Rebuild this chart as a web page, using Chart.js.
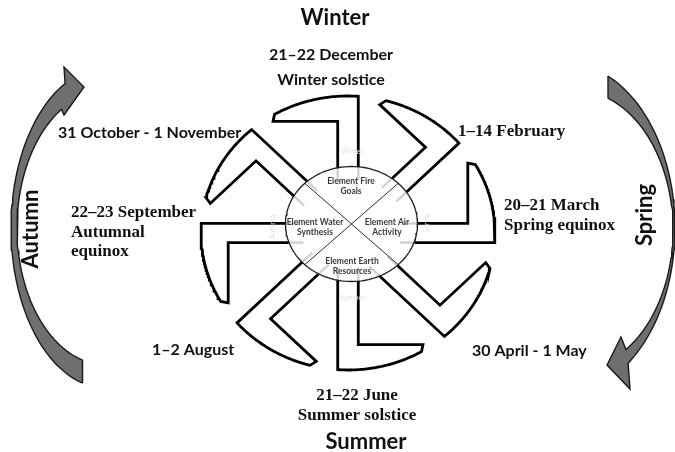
<!DOCTYPE html>
<html>
<head>
<meta charset="utf-8">
<script src="https://cdn.jsdelivr.net/npm/chart.js@4.4.1/dist/chart.umd.min.js"></script>
<style>
  html, body { margin: 0; padding: 0; background: #fff; }
  #wrap { width: 675px; height: 452px; }
</style>
</head>
<body>
<div id="wrap"><canvas id="wheel" width="675" height="452"></canvas></div>
<script>
// wheel of the year: 8 arms, 4 elements in the hub, 4 seasons round it

const armAngles = [90, 45, 0, -45, -90, -135, 180, 135];
const armDates = ['21–22 December', '1–14 February', '20–21 March', '30 April - 1 May',
                  '21–22 June', '1–2 August', '22–23 September', '31 October - 1 November'];
const armEvents = ['Winter solstice', '', 'Spring equinox', '', 'Summer solstice', '', 'Autumnal equinox', ''];
const elementNames = ['Element Fire', 'Element Air', 'Element Earth', 'Element Water'];
const elementMeanings = ['Goals', 'Activity', 'Resources', 'Synthesis'];
const seasons = ['Winter', 'Spring', 'Summer', 'Autumn'];

// layout (canvas units)
const C = { x: 348, y: 233, rx: 147, ry: 137 };          // outer ring of the symbol
const HUB = { x: 351.5, y: 224, rx: 66, ry: 57.5 };       // inner circle
const ARM = { half: 0.07, footIn: 0.815, footTip: 0.51, footAngle: 30 };

const SANS = 'Lato, "Open Sans", sans-serif';
const SERIF = '"Liberation Serif", "DejaVu Serif", serif';

const armLabelPos = [
  { x: 331, y: 55, align: 'center', font: 'sans', gap: 25 },
  { x: 458, y: 132, align: 'left', font: 'serif' },
  { x: 504, y: 206, align: 'left', font: 'serif', gap: 20 },
  { x: 472, y: 351, align: 'left', font: 'sans' },
  { x: 357, y: 396, align: 'center', font: 'serif', gap: 20 },
  { x: 152, y: 350, align: 'left', font: 'sans' },
  { x: 71, y: 213, align: 'left', font: 'serif', gap: 19.5, split: true },
  { x: 58, y: 133, align: 'left', font: 'sans' }
];
const elementPos = [{ x: 351, y: 181 }, { x: 387, y: 222 }, { x: 352, y: 261 }, { x: 315, y: 222 }];
const seasonPos = [{ x: 335, y: 18, rot: 0 }, { x: 645, y: 215, rot: -90 }, { x: 366, y: 442, rot: 0 }, { x: 31, y: 229, rot: -90 }];
const seasonFaint = [{ x: 352, y: 152, rot: 0 }, { x: 427, y: 223, rot: -90 }, { x: 352, y: 298, rot: 0 }, { x: 273, y: 227, rot: -90 }];

// curved season arrows: ellipse edges [cx, cy, rx, ry, from, to] + arrow head
const autumnArrow = {
  outer: [106, 228, 95, 160, 104.3, 244.5],
  head: [[64, 67], [84, 87], [64, 115]],
  inner: [106, 228, 89, 137, 240, 105.3]
};
const springArrow = {
  outer: [565, 228, 110, 165, -67, 55],
  head: [[630, 389], [607, 365], [621, 337]],
  inner: [575, 230, 98, 140, 58.7, -70.3]
};

const rad = d => d * Math.PI / 180;

function toPx(u, v) {
  return { x: C.x + u * C.rx, y: C.y - v * C.ry };
}

function inHub(p) {
  const dx = (p.x - HUB.x) / HUB.rx, dy = (p.y - HUB.y) / HUB.ry;
  return dx * dx + dy * dy < 1;
}

function armFrame(deg) {
  const a = rad(deg);
  const d = [Math.cos(a), Math.sin(a)], n = [-Math.sin(a), Math.cos(a)];
  const local = (s, t) => toPx(s * d[0] + t * n[0], s * d[1] + t * n[1]);
  const hubExit = t => { let s = 0; while (inHub(local(s, t)) && s < 1) s += 0.004; return s; };
  return { local, hubExit };
}

function armPoints(deg) {
  const { local, hubExit } = armFrame(deg);
  const w = ARM.half;
  const pts = [local(hubExit(w), w), local(ARM.footIn, w), local(ARM.footIn, ARM.footTip)];
  const a0 = ARM.footAngle, a1 = -Math.asin(w) * 180 / Math.PI;
  for (let k = 0; k <= 48; k++) {
    const b = rad(a0 + (a1 - a0) * k / 48);
    pts.push(local(Math.cos(b), Math.sin(b)));
  }
  pts.push(local(hubExit(-w), -w));
  return pts;
}

// the faded bit of each stem that runs on inside the hub
function stemFade(deg, side) {
  const { local, hubExit } = armFrame(deg);
  const t = side * ARM.half, s = hubExit(t);
  return [local(s, t), local(s - 0.1, t)];
}

function ellArc(e, n) {
  const [cx, cy, rx, ry, a0, a1] = e;
  const pts = [];
  for (let k = 0; k <= n; k++) {
    const b = rad(a0 + (a1 - a0) * k / n);
    pts.push({ x: cx + rx * Math.cos(b), y: cy + ry * Math.sin(b) });
  }
  return pts;
}

function arrowPoints(ar) {
  const pts = ellArc(ar.outer, 60)
    .concat(ar.head.map(p => ({ x: p[0], y: p[1] })))
    .concat(ellArc(ar.inner, 60));
  pts.push(pts[0]);
  return pts;
}

function hubPoints() {
  return ellArc([HUB.x, HUB.y, HUB.rx, HUB.ry, 0, 360], 120);
}

function hubDiagonal(deg) {
  const p = t => ({ x: HUB.x + HUB.rx * Math.cos(rad(t)), y: HUB.y - HUB.ry * Math.sin(rad(t)) });
  return [p(deg), p(deg + 180)];
}

function outline(points, width, color) {
  return {
    data: points, borderColor: color || '#000', borderWidth: width,
    pointRadius: 0, tension: 0, fill: false, clip: false,
    borderJoinStyle: 'miter', borderCapStyle: 'butt'
  };
}

const datasets = [];
armAngles.forEach(a => datasets.push(outline(armPoints(a), 2.8)));
datasets.push(outline(hubPoints(), 1.3, '#1e1e1e'));
datasets.push(outline(hubDiagonal(135), 1, '#2a2a2a'));
datasets.push(outline(hubDiagonal(45), 1, '#2a2a2a'));
armAngles.forEach(a => {
  datasets.push(outline(stemFade(a, 1), 2.5, '#d2d2d2'));
  datasets.push(outline(stemFade(a, -1), 2.5, '#d2d2d2'));
});
[autumnArrow, springArrow].forEach(ar => {
  const ds = outline(arrowPoints(ar), 1.4, '#1a1a1a');
  ds.fill = 'shape';
  ds.backgroundColor = '#6f6f6f';
  datasets.push(ds);
});

const textPlugin = {
  id: 'wheelText',
  afterDatasetsDraw(chart) {
    const { ctx, scales: { x, y } } = chart;
    const put = (s, px, py, font, color, align, rot) => {
      ctx.save();
      ctx.translate(x.getPixelForValue(px), y.getPixelForValue(py));
      if (rot) ctx.rotate(rad(rot));
      ctx.font = font;
      ctx.fillStyle = color;
      ctx.textAlign = align;
      ctx.textBaseline = 'middle';
      ctx.fillText(s, 0, 0);
      ctx.restore();
    };

    seasons.forEach((s, i) => {
      const p = seasonPos[i];
      put(s, p.x, p.y, 'bold 22px ' + SANS, '#111', 'center', p.rot);
      const f = seasonFaint[i];
      put(s, f.x, f.y, '7px ' + SANS, '#e2e2e2', 'center', f.rot);
    });

    armDates.forEach((d, i) => {
      const p = armLabelPos[i];
      const font = p.font === 'serif' ? 'bold 17px ' + SERIF : 'bold 16px ' + SANS;
      let lines = [d];
      if (armEvents[i]) lines = lines.concat(p.split ? armEvents[i].split(' ') : [armEvents[i]]);
      lines.forEach((t, k) => put(t, p.x, p.y + k * (p.gap || 0), font, '#111', p.align, 0));
    });

    elementNames.forEach((e, i) => {
      const p = elementPos[i];
      put(e, p.x, p.y, 'bold 8.5px ' + SANS, '#3a3a3a', 'center', 0);
      put(elementMeanings[i], p.x, p.y + 10.5, 'bold 8.5px ' + SANS, '#3a3a3a', 'center', 0);
    });
  }
};

new Chart(document.getElementById('wheel'), {
  type: 'line',
  data: { datasets: datasets },
  options: {
    responsive: false,
    animation: false,
    devicePixelRatio: 1,
    events: [],
    layout: { padding: 0 },
    scales: {
      x: { type: 'linear', min: 0, max: 675, display: false },
      y: { type: 'linear', min: 0, max: 452, reverse: true, display: false }
    },
    plugins: {
      legend: { display: false },
      tooltip: { enabled: false }
    }
  },
  plugins: [textPlugin]
});
</script>
</body>
</html>
